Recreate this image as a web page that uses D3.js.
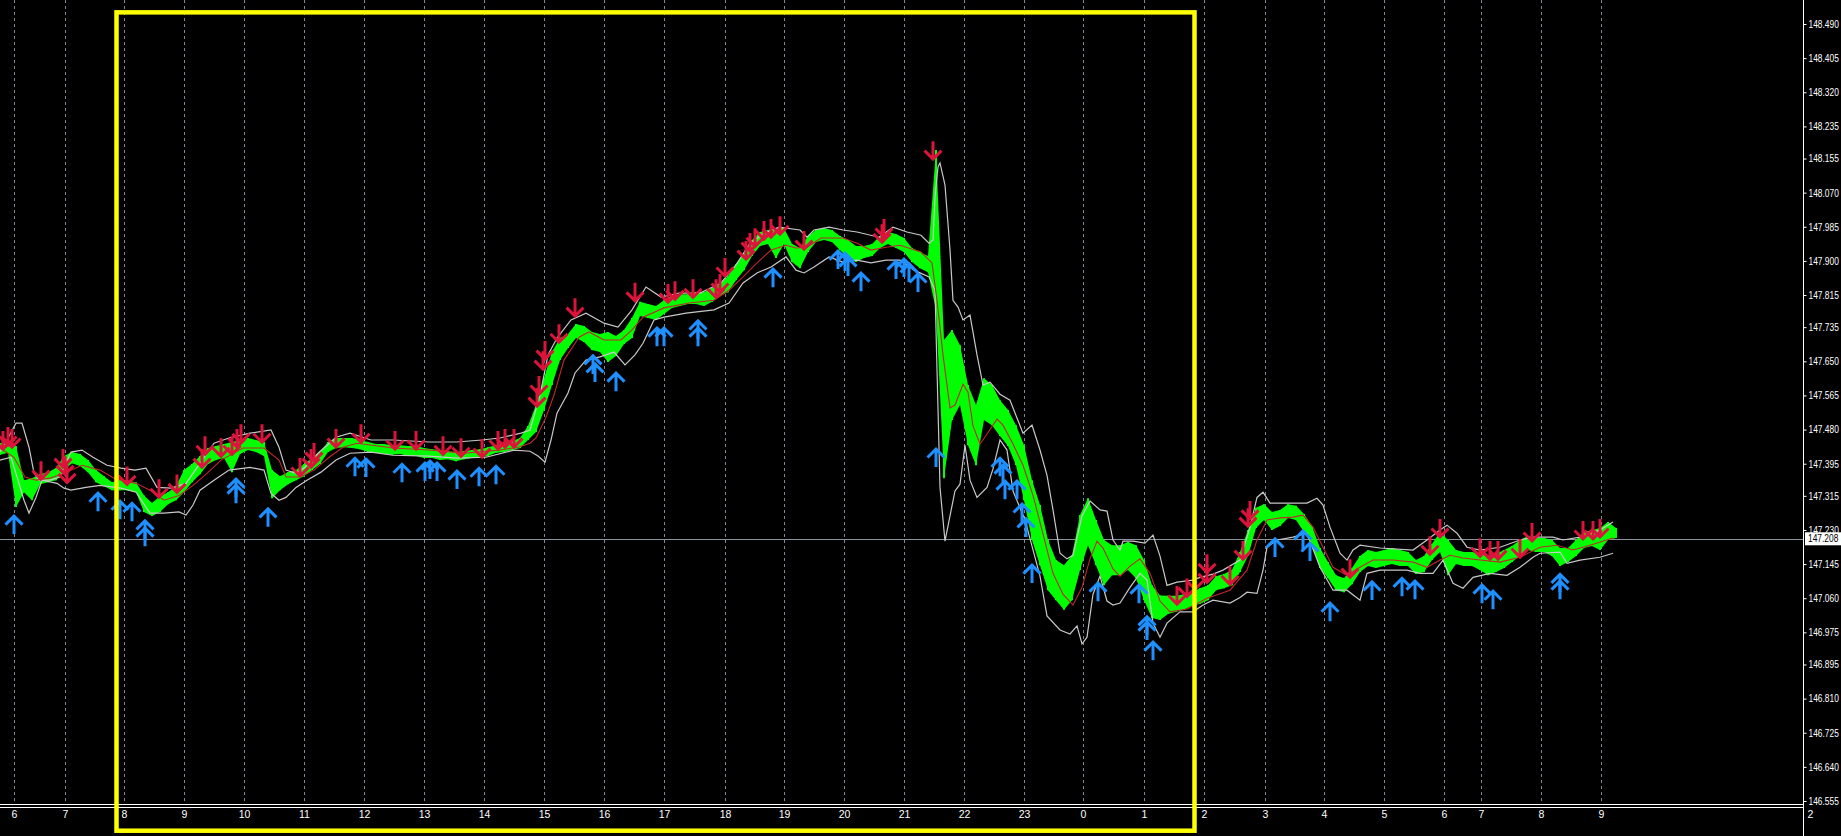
<!DOCTYPE html>
<html><head><meta charset="utf-8">
<script src="https://cdn.jsdelivr.net/npm/d3@7/dist/d3.min.js"></script>
<style>html,body{margin:0;padding:0;background:#000;overflow:hidden}</style>
</head><body>
<svg id="c" width="1841" height="836"></svg>
<script>
// ---------- data ----------
const hourLabels = ["6","7","8","9","10","11","12","13","14","15","16","17","18","19","20","21","22","23","0","1","2","3","4","5","6","7","8","9"];
const hourTime   = [14,65,124,184,244,304,364,424,484,544,604,664,725,784,844,904,964,1024,1083,1144,1204,1265,1324,1384,1444,1481,1541,1601];
const priceTicks = [148.490,148.405,148.320,148.235,148.155,148.070,147.985,147.900,147.815,147.735,147.650,147.565,147.480,147.395,147.315,147.230,147.145,147.060,146.975,146.895,146.810,146.725,146.640,146.555];
const priceTickLabels = ["148.490","148.405","148.320","148.235","148.155","148.070","147.985","147.900","147.815","147.735","147.650","147.565","147.480","147.395","147.315","147.230","147.145","147.060","146.975","146.895","146.810","146.725","146.640","146.555"];
const lastPrice = 147.208;
const barStep = 8; // minutes between sampled bars
const barHigh = [
147.446,147.451,147.439,147.354,147.359,147.369,147.374,147.384,147.414,147.424,
147.419,147.404,147.379,147.364,147.349,147.354,147.352,147.349,147.316,147.297,
147.314,147.324,147.339,147.379,147.394,147.414,147.434,147.439,147.444,147.449,
147.454,147.459,147.454,147.449,147.379,147.364,147.374,147.379,147.394,147.409,
147.424,147.449,147.459,147.459,147.459,147.454,147.449,147.444,147.444,147.441,
147.441,147.439,147.439,147.434,147.431,147.429,147.426,147.424,147.426,147.429,
147.431,147.436,147.441,147.446,147.451,147.459,147.489,147.541,147.608,147.673,
147.708,147.718,147.743,147.738,147.723,147.718,147.723,147.713,147.728,147.758,
147.798,147.793,147.788,147.802,147.813,147.817,147.817,147.822,147.822,147.832,
147.842,147.862,147.892,147.917,147.952,147.972,147.977,147.982,147.982,147.942,
147.932,147.962,147.977,147.982,147.977,147.962,147.952,147.937,147.937,147.942,
147.962,147.972,147.967,147.957,147.932,147.922,147.912,148.176,147.703,147.728,
147.690,147.591,147.541,147.608,147.591,147.553,147.529,147.491,147.441,147.354,
147.292,147.205,147.155,147.142,147.167,147.267,147.309,147.255,147.205,147.192,
147.192,147.200,147.192,147.155,147.092,147.067,147.066,147.066,147.070,147.075,
147.085,147.092,147.115,147.120,147.130,147.175,147.230,147.285,147.294,147.275,
147.280,147.294,147.290,147.270,147.240,147.185,147.150,147.117,147.110,147.135,
147.165,147.180,147.175,147.180,147.185,147.180,147.175,147.155,147.165,147.195,
147.225,147.205,147.180,147.175,147.175,147.170,147.165,147.170,147.180,147.190,
147.205,147.215,147.210,147.210,147.205,147.185,147.185,147.205,147.225,147.230,
147.235,147.250,147.235];
const barLow = [
147.417,147.422,147.287,147.324,147.304,147.344,147.349,147.354,147.379,147.396,
147.389,147.374,147.349,147.339,147.329,147.329,147.329,147.324,147.275,147.265,
147.275,147.294,147.304,147.324,147.349,147.369,147.394,147.404,147.409,147.374,
147.419,147.429,147.424,147.414,147.309,147.329,147.344,147.354,147.364,147.379,
147.394,147.424,147.434,147.436,147.434,147.431,147.424,147.422,147.419,147.417,
147.419,147.414,147.414,147.409,147.409,147.404,147.406,147.401,147.406,147.409,
147.409,147.414,147.422,147.424,147.429,147.434,147.454,147.474,147.529,147.591,
147.653,147.683,147.708,147.698,147.678,147.673,147.648,147.663,147.693,147.708,
147.763,147.758,147.753,147.768,147.783,147.788,147.793,147.793,147.788,147.798,
147.813,147.822,147.852,147.877,147.912,147.937,147.942,147.907,147.942,147.897,
147.882,147.922,147.947,147.952,147.947,147.927,147.907,147.897,147.907,147.912,
147.932,147.942,147.932,147.922,147.897,147.882,147.872,147.778,147.359,147.504,
147.541,147.441,147.391,147.504,147.491,147.464,147.439,147.391,147.304,147.205,
147.142,147.080,147.055,147.031,147.055,147.130,147.192,147.142,147.092,147.117,
147.117,147.130,147.110,147.055,147.011,147.006,147.021,147.026,147.031,147.041,
147.046,147.055,147.080,147.085,147.092,147.125,147.165,147.235,147.255,147.230,
147.240,147.260,147.255,147.225,147.192,147.135,147.110,147.080,147.075,147.095,
147.125,147.140,147.135,147.140,147.145,147.140,147.140,147.120,147.125,147.155,
147.175,147.117,147.145,147.140,147.140,147.130,147.117,147.125,147.135,147.150,
147.165,147.180,147.175,147.175,147.165,147.140,147.150,147.165,147.185,147.190,
147.180,147.205,147.210];

const upperT = [0,8,16,22,29,34,39,50,60,71,82,93,107,121,135,146,157,171,186,200,214,229,250,271,279,286,296,304,318,336,350,371,393,429,457,482,500,521,530,540,548,557,571,586,604,618,632,646,661,679,700,721,736,750,764,779,800,807,814,829,843,857,879,893,907,921,929,933,935,938,940,945,950,953,958,963,970,977,983,990,1000,1010,1023,1032,1040,1047,1053,1060,1067,1073,1082,1090,1100,1107,1113,1120,1123,1133,1145,1153,1160,1167,1177,1193,1200,1213,1223,1240,1250,1257,1263,1270,1287,1307,1317,1323,1330,1340,1347,1353,1360,1380,1413,1427,1440,1447,1457,1467,1480,1500,1520,1533,1553,1563,1580,1600,1613];
const upperP = [147.424,147.459,147.496,147.496,147.436,147.372,147.354,147.354,147.362,147.424,147.429,147.411,147.391,147.384,147.379,147.384,147.336,147.334,147.346,147.396,147.446,147.459,147.471,147.479,147.436,147.379,147.371,147.384,147.421,147.461,147.471,147.454,147.454,147.449,147.449,147.454,147.459,147.471,147.479,147.566,147.666,147.708,147.753,147.770,147.745,147.735,147.778,147.835,147.810,147.820,147.820,147.845,147.890,147.944,147.969,147.984,147.977,147.959,147.977,147.984,147.977,147.972,147.959,147.984,147.972,147.964,147.944,147.952,148.059,148.134,148.144,148.089,147.927,147.802,147.785,147.753,147.765,147.666,147.591,147.598,147.568,147.553,147.471,147.491,147.429,147.366,147.280,147.172,147.158,147.167,147.265,147.302,147.280,147.277,147.205,147.180,147.202,147.202,147.197,147.217,147.165,147.092,147.100,147.105,147.112,147.120,147.130,147.155,147.237,147.311,147.324,147.297,147.297,147.297,147.309,147.292,147.237,147.172,147.155,147.180,147.192,147.185,147.180,147.205,147.230,147.242,147.222,147.187,147.180,147.187,147.205,147.212,147.212,147.205,147.212,147.230,147.250];

const lowerT = [0,11,18,24,29,36,42,57,64,71,86,100,121,136,150,164,179,186,193,200,214,229,250,264,271,279,286,296,307,321,336,350,371,393,429,457,486,514,530,538,545,551,557,568,575,586,600,614,625,635,643,654,664,686,714,729,743,757,771,786,796,804,814,829,843,857,871,886,900,914,929,935,940,945,950,955,960,965,970,977,987,993,1000,1007,1013,1025,1040,1047,1060,1070,1077,1082,1087,1093,1100,1107,1113,1120,1130,1140,1147,1153,1160,1167,1180,1193,1203,1213,1230,1240,1247,1257,1263,1267,1277,1293,1307,1320,1333,1347,1360,1367,1380,1407,1420,1433,1443,1453,1463,1473,1490,1507,1520,1533,1540,1560,1567,1580,1600,1613];
const lowerP = [147.404,147.411,147.354,147.304,147.272,147.311,147.354,147.346,147.334,147.329,147.336,147.341,147.334,147.324,147.272,147.272,147.275,147.267,147.292,147.329,147.354,147.379,147.386,147.379,147.321,147.304,147.311,147.336,147.354,147.374,147.404,147.421,147.424,147.416,147.414,147.409,147.411,147.429,147.426,147.414,147.399,147.454,147.521,147.571,147.621,147.653,147.661,147.673,147.641,147.666,147.695,147.753,147.760,147.770,147.778,147.795,147.845,147.870,147.885,147.910,147.877,147.870,147.885,147.910,147.897,147.902,147.895,147.902,147.902,147.877,147.860,147.827,147.336,147.202,147.265,147.327,147.344,147.441,147.354,147.311,147.336,147.382,147.454,147.429,147.327,147.255,147.115,147.016,146.981,146.971,146.991,146.946,146.963,147.070,147.115,147.053,147.043,147.048,147.087,147.122,147.105,146.998,146.963,146.998,147.026,147.026,147.043,147.055,147.048,147.062,147.075,147.072,147.130,147.187,147.205,147.212,147.222,147.137,147.080,147.080,147.055,147.122,147.130,147.130,147.122,147.122,147.155,147.097,147.085,147.112,147.122,147.117,147.137,147.162,147.172,147.175,147.147,147.155,147.162,147.172];

const maT = [0,14,25,36,50,64,82,100,114,136,150,164,179,193,207,221,243,264,279,286,300,314,329,343,357,393,429,464,500,518,530,536,546,554,564,579,589,604,621,632,643,664,689,714,729,743,757,771,786,796,807,821,843,857,871,886,900,921,932,937,943,950,955,963,968,973,980,987,997,1003,1013,1023,1033,1043,1053,1063,1073,1082,1090,1097,1103,1113,1120,1130,1140,1150,1160,1170,1187,1207,1230,1247,1257,1267,1280,1293,1303,1313,1323,1333,1347,1360,1373,1393,1413,1427,1440,1450,1463,1480,1500,1520,1540,1557,1573,1590,1613];
const maP = [147.434,147.411,147.362,147.354,147.359,147.371,147.391,147.379,147.359,147.346,147.329,147.304,147.316,147.341,147.371,147.404,147.434,147.434,147.404,147.362,147.362,147.379,147.411,147.436,147.446,147.434,147.429,147.421,147.429,147.436,147.446,147.459,147.511,147.566,147.653,147.710,147.723,147.703,147.703,147.728,147.760,147.783,147.795,147.802,147.827,147.860,147.895,147.927,147.939,147.932,147.934,147.957,147.957,147.944,147.927,147.934,147.939,147.922,147.895,147.802,147.666,147.534,147.541,147.593,147.573,147.489,147.444,147.469,147.506,147.491,147.444,147.391,147.316,147.220,147.122,147.070,147.043,147.087,147.158,147.202,147.185,147.133,147.115,147.140,147.158,147.122,147.053,147.026,147.033,147.060,147.080,147.130,147.205,147.255,147.260,147.262,147.267,147.237,147.187,147.137,147.117,147.137,147.155,147.155,147.150,147.137,147.155,147.167,147.160,147.155,147.150,147.162,147.187,147.192,147.180,147.192,147.210];

const sellT = [3,8,12,41,63,65,67,127,159,177,202,205,221,232,237,241,262,300,311,314,336,361,395,416,443,461,482,498,505,514,537,539,543,545,559,575,635,668,675,693,716,720,725,746,750,755,764,771,780,804,882,884,933,1177,1187,1195,1207,1207,1230,1243,1248,1250,1350,1430,1440,1480,1490,1498,1520,1532,1583,1593,1600];
const sellP = [147.429,147.439,147.434,147.354,147.384,147.366,147.346,147.341,147.309,147.321,147.384,147.416,147.411,147.416,147.434,147.446,147.446,147.362,147.384,147.399,147.434,147.446,147.429,147.429,147.416,147.411,147.409,147.429,147.434,147.434,147.536,147.566,147.628,147.653,147.695,147.760,147.798,147.795,147.802,147.807,147.807,147.820,147.860,147.902,147.922,147.934,147.952,147.957,147.964,147.927,147.944,147.957,148.151,147.043,147.062,147.080,147.097,147.122,147.092,147.155,147.237,147.255,147.110,147.167,147.210,147.162,147.155,147.155,147.160,147.200,147.205,147.205,147.210];

const buyT = [14,98,120,132,145,145,236,236,268,355,366,402,425,430,437,457,479,496,593,595,616,657,664,698,698,773,838,845,848,861,896,904,909,918,936,1000,1003,1005,1017,1022,1026,1032,1098,1139,1147,1147,1153,1275,1303,1310,1330,1372,1402,1415,1482,1493,1560,1560];
const buyP = [147.267,147.324,147.304,147.299,147.255,147.237,147.359,147.344,147.285,147.411,147.409,147.396,147.399,147.404,147.399,147.379,147.386,147.391,147.666,147.646,147.623,147.735,147.735,147.753,147.735,147.882,147.927,147.922,147.910,147.872,147.902,147.907,147.895,147.870,147.434,147.411,147.394,147.354,147.354,147.297,147.260,147.145,147.100,147.095,147.016,147.003,146.953,147.210,147.230,147.200,147.050,147.103,147.112,147.105,147.095,147.080,147.122,147.105];

const boxT = [116.5, 1194.5];
const boxP = [148.519, 146.481];

// ---------- layout ----------
const W = 1841, H = 836;
const axisX = 1803.5;
const sepY1 = 804.5, sepY2 = 807.5;
const FONT = "'Liberation Sans', Arial, sans-serif";
const SX = 0.8; // horizontal squeeze of axis labels so they fit the narrow scale strip

const svg = d3.select("#c");
svg.append("rect").attr("width", W).attr("height", H).attr("fill", "#000");

const x = d3.scaleLinear().domain([0, 1803]).range([0, 1803]);
const y = d3.scaleLinear().domain([146.555, 148.490]).range([801, 24]);

const plot = svg.append("g");
plot.append("clipPath").attr("id","clipP").append("rect").attr("x",0).attr("y",0).attr("width",axisX).attr("height",sepY1);

// vertical dashed grid
plot.append("g").selectAll("line").data(hourTime).join("line")
  .attr("x1", d => Math.round(x(d)) + 0.5).attr("x2", d => Math.round(x(d)) + 0.5)
  .attr("y1", 0).attr("y2", sepY1 - 1)
  .attr("stroke", "#7a8796").attr("stroke-width", 1).attr("stroke-dasharray", "3,3");

// current price line
plot.append("line").attr("x1", 0).attr("x2", axisX)
  .attr("y1", Math.round(y(lastPrice)) + 0.5).attr("y2", Math.round(y(lastPrice)) + 0.5)
  .attr("stroke", "#8a939e").attr("stroke-width", 1);

const chart = plot.append("g").attr("clip-path", "url(#clipP)");

// price bars (green)
const bars = barHigh.map((h, i) => ({t: i * barStep, h: h, l: barLow[i]}));
chart.append("path").datum(bars)
  .attr("d", d3.area().x(d => x(d.t)).y0(d => y(d.l)).y1(d => y(d.h)).curve(d3.curveLinear))
  .attr("fill", "#00ff00");
chart.append("g").selectAll("line").data(bars).join("line")
  .attr("x1", d => x(d.t)).attr("x2", d => x(d.t))
  .attr("y1", d => y(d.h)).attr("y2", d => y(d.l))
  .attr("stroke", "#00ff00").attr("stroke-width", 2);

// bands
const lineGen = d3.line().x(d => x(d[0])).y(d => y(d[1])).curve(d3.curveLinear);
chart.append("path").datum(upperT.map((t, i) => [t, upperP[i]]))
  .attr("d", lineGen).attr("fill", "none").attr("stroke", "#c8c8c8").attr("stroke-width", 1.2);
chart.append("path").datum(lowerT.map((t, i) => [t, lowerP[i]]))
  .attr("d", lineGen).attr("fill", "none").attr("stroke", "#c8c8c8").attr("stroke-width", 1.2);
// moving average
chart.append("path").datum(maT.map((t, i) => [t, maP[i]]))
  .attr("d", lineGen).attr("fill", "none").attr("stroke", "#c0282a").attr("stroke-width", 1.1);

// sell arrows (red, pointing down, tip at value)
chart.append("g").selectAll("path").data(sellT.map((t, i) => [t, sellP[i]])).join("path")
  .attr("transform", d => `translate(${x(d[0])},${y(d[1])})`)
  .attr("d", "M0,-19V-1M-8.5,-9.5L0,-1L8.5,-9.5")
  .attr("fill", "none").attr("stroke", "#dc143c").attr("stroke-width", 3);
// buy arrows (blue, pointing up)
chart.append("g").selectAll("path").data(buyT.map((t, i) => [t, buyP[i]])).join("path")
  .attr("transform", d => `translate(${x(d[0])},${y(d[1])})`)
  .attr("d", "M0,19V1M-8.5,9.5L0,1L8.5,9.5")
  .attr("fill", "none").attr("stroke", "#1e90ff").attr("stroke-width", 3);

// separator double line
svg.append("line").attr("x1", 0).attr("x2", axisX).attr("y1", sepY1).attr("y2", sepY1).attr("stroke", "#fff");
svg.append("line").attr("x1", 0).attr("x2", axisX).attr("y1", sepY2).attr("y2", sepY2).attr("stroke", "#fff");

// right price axis
svg.append("line").attr("x1", axisX).attr("x2", axisX).attr("y1", 0).attr("y2", H).attr("stroke", "#fff");
const yAxisG = svg.append("g").attr("transform", `translate(${axisX},0)`)
  .call(d3.axisRight(y).tickValues(priceTicks).tickFormat((d, i) => priceTickLabels[i]).tickSize(3).tickPadding(2));
yAxisG.select(".domain").remove();
yAxisG.selectAll("line").attr("stroke", "#fff");
yAxisG.selectAll("text")
  .attr("x", 5 / SX)
  .attr("transform", `scale(${SX},1)`)
  .attr("fill", "#fff").style("font-family", FONT).style("font-size", "10.5px");

// last price label box
const lp = svg.append("g").attr("transform", `translate(${axisX + 1.5},${y(lastPrice)})`);
lp.append("rect").attr("x", 0).attr("y", -6.5).attr("width", 40).attr("height", 13).attr("fill", "#fff");
lp.append("text").attr("x", 3 / SX).attr("y", 0).attr("dy", "0.35em").attr("transform", `scale(${SX},1)`)
  .text(lastPrice.toFixed(3))
  .attr("fill", "#000").style("font-family", FONT).style("font-size", "10.5px");

// bottom time labels
svg.append("g").selectAll("text").data(hourTime).join("text")
  .attr("x", d => x(d) + 0.5).attr("y", 814).attr("dy", "0.35em").attr("text-anchor", "middle")
  .text((d, i) => hourLabels[i])
  .attr("fill", "#fff").style("font-family", FONT).style("font-size", "10.5px");

// subwindow index label
svg.append("text").attr("x", axisX + 4).attr("y", 814).attr("dy", "0.35em").text("2")
  .attr("fill", "#fff").style("font-family", FONT).style("font-size", "10.5px");

// yellow rectangle annotation
svg.append("rect")
  .attr("x", x(boxT[0])).attr("y", y(boxP[0]))
  .attr("width", x(boxT[1]) - x(boxT[0])).attr("height", y(boxP[1]) - y(boxP[0]))
  .attr("fill", "none").attr("stroke", "#ffff00").attr("stroke-width", 4.5);
</script>
</body></html>
